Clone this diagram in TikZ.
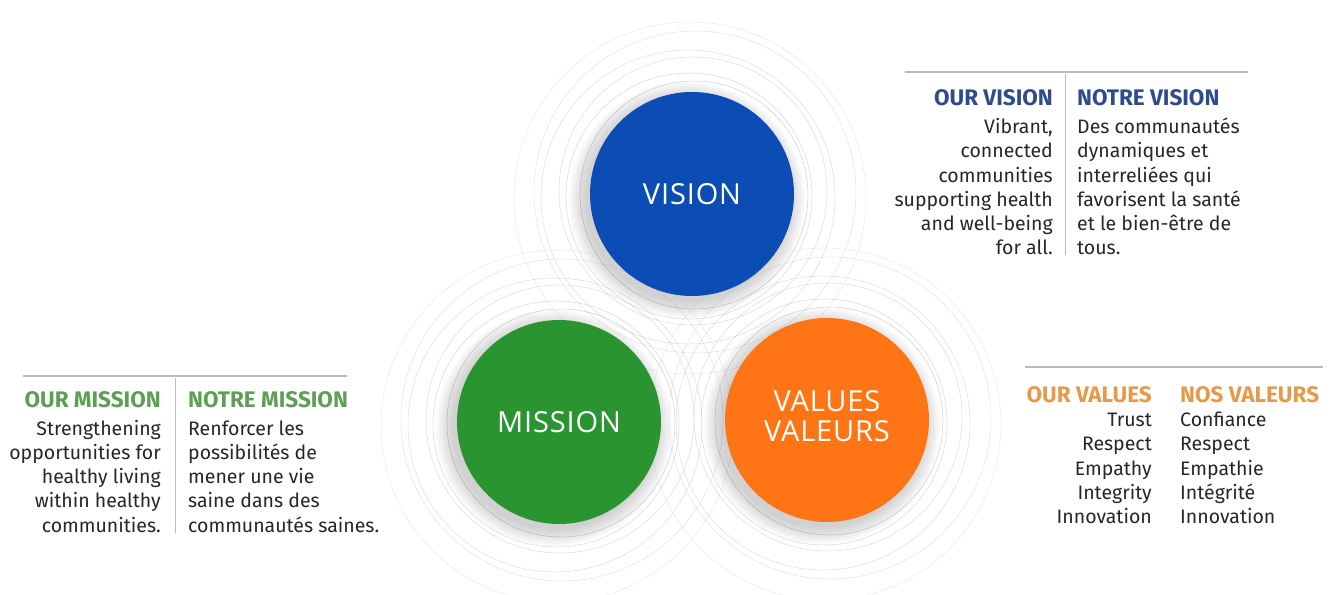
\documentclass[tikz,border=0pt]{standalone}
\usepackage{fontspec}
\setmainfont{Fira Sans}
\newfontfamily\circfont[LetterSpace=3]{Open Sans}
\definecolor{visblue}{HTML}{0B4DB4}
\definecolor{misgreen}{HTML}{2A9530}
\definecolor{valorange}{HTML}{FF7414}
\definecolor{vishead}{HTML}{2E4B8C}
\definecolor{mishead}{HTML}{5E9F55}
\definecolor{valhead}{HTML}{E59A4B}
\definecolor{bodytext}{HTML}{262626}
\definecolor{rulecol}{HTML}{BBBBBB}
\newcommand\hd[2]{{\color{#1}\bfseries\fontsize{22.5}{24}\selectfont #2}}
\tikzset{
  bigdisc/.style={circle, minimum size=204pt, inner sep=0pt, text=white,
    font=\circfont\fontsize{29}{33}\selectfont, align=center},
  ring/.style={draw=black!35, line width=0.5pt},
  hrule/.style={draw=rulecol, line width=1.3pt},
  vrule/.style={draw=rulecol, line width=0.8pt},
  txt/.style={inner sep=0pt, text=bodytext, font=\fontsize{19.5}{24.2}\selectfont}
}
\begin{document}
\begin{tikzpicture}[x=1pt,y=-1pt]
\useasboundingbox (0,0) rectangle (1335,594);
% rings and shadows
\foreach \cx/\cy in {692/194, 559/422, 827/420} {
  \foreach \r/\dx/\dy/\op in {114/2/1/0.55, 123/-3/2/0.45, 134/1/-3/0.4, 147/-4/3/0.38, 161/3/-2/0.32, 176/-2/4/0.25}
    \draw[ring, opacity=\op] (\cx+\dx,\cy+\dy) circle[radius=\r];
  \foreach \k in {1,...,10}
    \fill[black, opacity=0.018] (\cx-5,\cy+6) circle[radius=100+1.8*\k];
}
\node[bigdisc, fill=visblue] (vision) at (692,194) {VISION};
\node[bigdisc, fill=misgreen] (mission) at (559,422) {MISSION};
\node[bigdisc, fill=valorange] (values) at (827,420) {\raisebox{3pt}{\begin{tabular}{@{}c@{}}VALUES\\[-3pt]VALEURS\end{tabular}}};
% vision text
\draw[hrule] (905,72) -- (1248,72);
\draw[vrule] (1065,74) -- (1065,255);
\node[txt, anchor=base east] (visL) at (1053,105) {\begin{tabular}[t]{@{}r@{}}\hd{vishead}{OUR VISION}\\[4.5pt]
Vibrant,\\ connected\\ communities\\ supporting health\\ and well-being\\ for all.\end{tabular}};
\node[txt, anchor=base west] (visR) at (1077,105) {\begin{tabular}[t]{@{}l@{}}\hd{vishead}{NOTRE VISION}\\[4.5pt]
Des communautés\\ dynamiques et\\ interreliées qui\\ favorisent la santé\\ et le bien-être de\\ tous.\end{tabular}};
% mission text
\draw[hrule] (23,376) -- (347,376);
\draw[vrule] (175,378) -- (175,533);
\node[txt, anchor=base east] (misL) at (161,407) {\begin{tabular}[t]{@{}r@{}}\hd{mishead}{OUR MISSION}\\[4pt]
Strengthening\\ opportunities for\\ healthy living\\ within healthy\\ communities.\end{tabular}};
\node[txt, anchor=base west] (misR) at (188,407) {\begin{tabular}[t]{@{}l@{}}\hd{mishead}{NOTRE MISSION}\\[4pt]
Renforcer les\\ possibilités de\\ mener une vie\\ saine dans des\\ communautés saines.\end{tabular}};
% values text
\draw[hrule] (1025,367) -- (1323,367);
\node[txt, anchor=base east] (valL) at (1152,402) {\begin{tabular}[t]{@{}r@{}}\hd{valhead}{OUR VALUES}\\[0.5pt]
Trust\\ Respect\\ Empathy\\ Integrity\\ Innovation\end{tabular}};
\node[txt, anchor=base west] (valR) at (1180,402) {\begin{tabular}[t]{@{}l@{}}\hd{valhead}{NOS VALEURS}\\[0.5pt]
Confiance\\ Respect\\ Empathie\\ Intégrité\\ Innovation\end{tabular}};
\end{tikzpicture}
\end{document}
